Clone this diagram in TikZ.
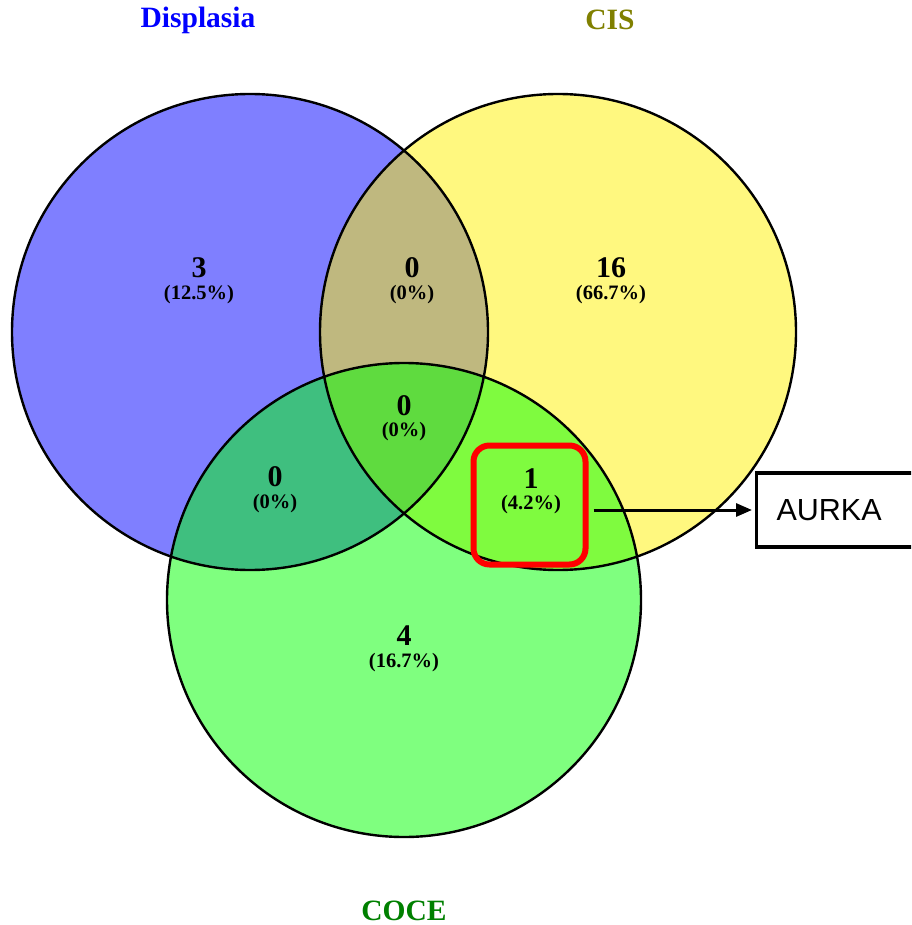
\documentclass[tikz,border=0pt]{standalone}
\usepackage{fontspec}
\setmainfont{Liberation Serif}
\setsansfont{Liberation Sans}
\usetikzlibrary{arrows.meta}
\definecolor{cisolive}{RGB}{128,128,0}
\definecolor{cocegreen}{RGB}{0,128,0}
\definecolor{aurkared}{RGB}{255,0,0}
\tikzset{
  vfill/.style={fill opacity=0.5},
  vline/.style={draw=black, line width=2.4pt},
  cnt/.style={font=\fontsize{30}{32}\selectfont\bfseries, inner sep=0pt},
  pct/.style={font=\fontsize{20.5}{22}\selectfont\bfseries, inner sep=0pt},
  ttl/.style={font=\fontsize{29.5}{31}\selectfont\bfseries, inner sep=0pt},
}
\begin{document}
\begin{tikzpicture}[x=1pt,y=-1pt]
\useasboundingbox (0,0) rectangle (911,925);
\clip (0,0) rectangle (911,925);
\fill[white] (0,0) rectangle (911,925);
% fills
\path[fill=blue, vfill] (250,332) circle (238);
\path[fill=yellow, vfill] (558,332) circle (238);
\path[fill=green, vfill] (404,600) circle (237);
% outlines
\draw[vline] (250,332) circle (238);
\draw[vline] (558,332) circle (238);
\draw[vline] (404,600) circle (237);
% titles
\node[ttl, text=blue] (tdis) at (198,20) {Displasia};
\node[ttl, text=cisolive] (tcis) at (610,20) {CIS};
\node[ttl, text=cocegreen, anchor=base] (tcoce) at (404,920) {COCE};
% counts
\node[cnt] (n1) at (199,268) {3};
\node[pct] (p1) at (199,295) {(12.5\%)};
\node[cnt] (n2) at (412,268) {0};
\node[pct] (p2) at (412,295) {(0\%)};
\node[cnt] (n3) at (611,268) {16};
\node[pct] (p3) at (611,295) {(66.7\%)};
\node[cnt] (n4) at (404,406) {0};
\node[pct] (p4) at (404,432) {(0\%)};
\node[cnt] (n5) at (275,477) {0};
\node[pct] (p5) at (275,504) {(0\%)};
\node[cnt] (n6) at (531,479) {1};
\node[pct] (p6) at (531,505) {(4.2\%)};
\node[cnt] (n7) at (404,636) {4};
\node[pct] (p7) at (404,663) {(16.7\%)};
% highlight
\node[draw=aurkared, line width=6pt, rounded corners=16pt, minimum width=112pt, minimum height=119pt, inner sep=0pt] (hl) at (529.5,505) {};
\node[draw=black, line width=3.2pt, anchor=west, minimum height=74pt, text width=150pt, inner xsep=20pt, align=left, font=\sffamily\fontsize{30.5}{32}\selectfont, fill=white] (aurka) at (755,510) {AURKA};
\draw[line width=3pt, -{Stealth[length=16pt, width=13pt, inset=0pt]}, shorten <=5pt, shorten >=3pt] (hl.east |- aurka.west) -- (aurka.west);
\end{tikzpicture}
\end{document}
